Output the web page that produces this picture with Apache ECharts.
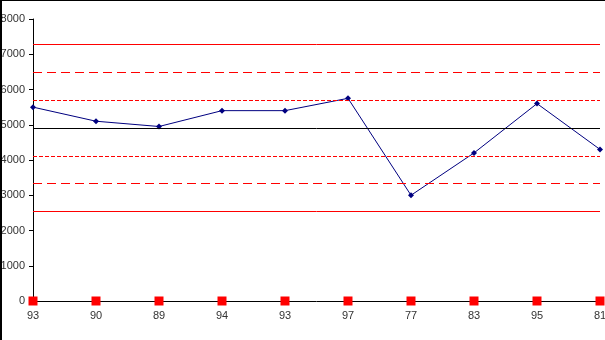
<!DOCTYPE html>
<html><head><meta charset="utf-8">
<script src="https://cdn.jsdelivr.net/npm/echarts@6/dist/echarts.min.js"></script>
<style>html,body{margin:0;padding:0;background:#fff}#c{width:605px;height:340px}</style>
</head><body><div id="c"></div>
<script>
var categories = ['93','90','89','94','93','97','77','83','95','81'];
var values = [5500,5100,4950,5400,5400,5750,3000,4200,5600,4300];
var baseValues = [0,0,0,0,0,0,0,0,0,0];
var centerLine = 4910;
var limitsSolid = [7280, 2540];
var limitsLongDash = [6490, 3330];
var limitsShortDash = [5700, 4120];
var yTicks = [0,1000,2000,3000,4000,5000,6000,7000,8000];

var marks = [];
marks.push({yAxis: centerLine, lineStyle:{color:'#000000', type:'solid', width:1}});
limitsSolid.forEach(function(v){ marks.push({yAxis:v, lineStyle:{color:'#ff0000', type:'solid', width:1}}); });
limitsLongDash.forEach(function(v){ marks.push({yAxis:v, lineStyle:{color:'#ff0000', type:[9,5], width:1}}); });
limitsShortDash.forEach(function(v){ marks.push({yAxis:v, lineStyle:{color:'#ff0000', type:[4,2], width:1}}); });

var chart = echarts.init(document.getElementById('c'), null, {renderer:'canvas'});
chart.setOption({
  animation:false,
  backgroundColor:'#ffffff',
  grid:{left:33, right:5, top:19, bottom:39, containLabel:false, outerBoundsMode:'none'},
  xAxis:{type:'category', data:categories, boundaryGap:false,
    axisLine:{lineStyle:{color:'#000', width:1}},
    axisTick:{show:true, alignWithLabel:true, length:4, lineStyle:{color:'#000'}},
    axisLabel:{color:'#333', fontSize:11, fontFamily:'Liberation Sans, Arial', margin:9},
    splitLine:{show:false}},
  yAxis:{type:'value', min:yTicks[0], max:yTicks[yTicks.length-1], interval:1000,
    axisLine:{show:true, lineStyle:{color:'#000', width:1}},
    axisTick:{show:true, length:4, lineStyle:{color:'#000'}},
    axisLabel:{color:'#333', fontSize:11, fontFamily:'Liberation Sans, Arial', margin:8,
      formatter:function(v){ return String(v); }},
    splitLine:{show:false}},
  series:[
    {type:'line', data:values, symbol:'diamond', symbolSize:6, showAllSymbol:true,
      itemStyle:{color:'#000080'}, lineStyle:{color:'#000080', width:1}, z:3,
      markLine:{silent:true, symbol:'none', label:{show:false}, animation:false, data:marks}},
    {type:'line', data:baseValues, symbol:'rect', symbolSize:9, showAllSymbol:true,
      itemStyle:{color:'#ff0000'}, lineStyle:{width:0, opacity:0}, z:4}
  ],
  graphic:[
    {type:'rect', shape:{x:0, y:0, width:605, height:1}, style:{fill:'#000'}, z:100},
    {type:'rect', shape:{x:0, y:0, width:2, height:340}, style:{fill:'#000'}, z:100}
  ]
});
</script></body></html>
